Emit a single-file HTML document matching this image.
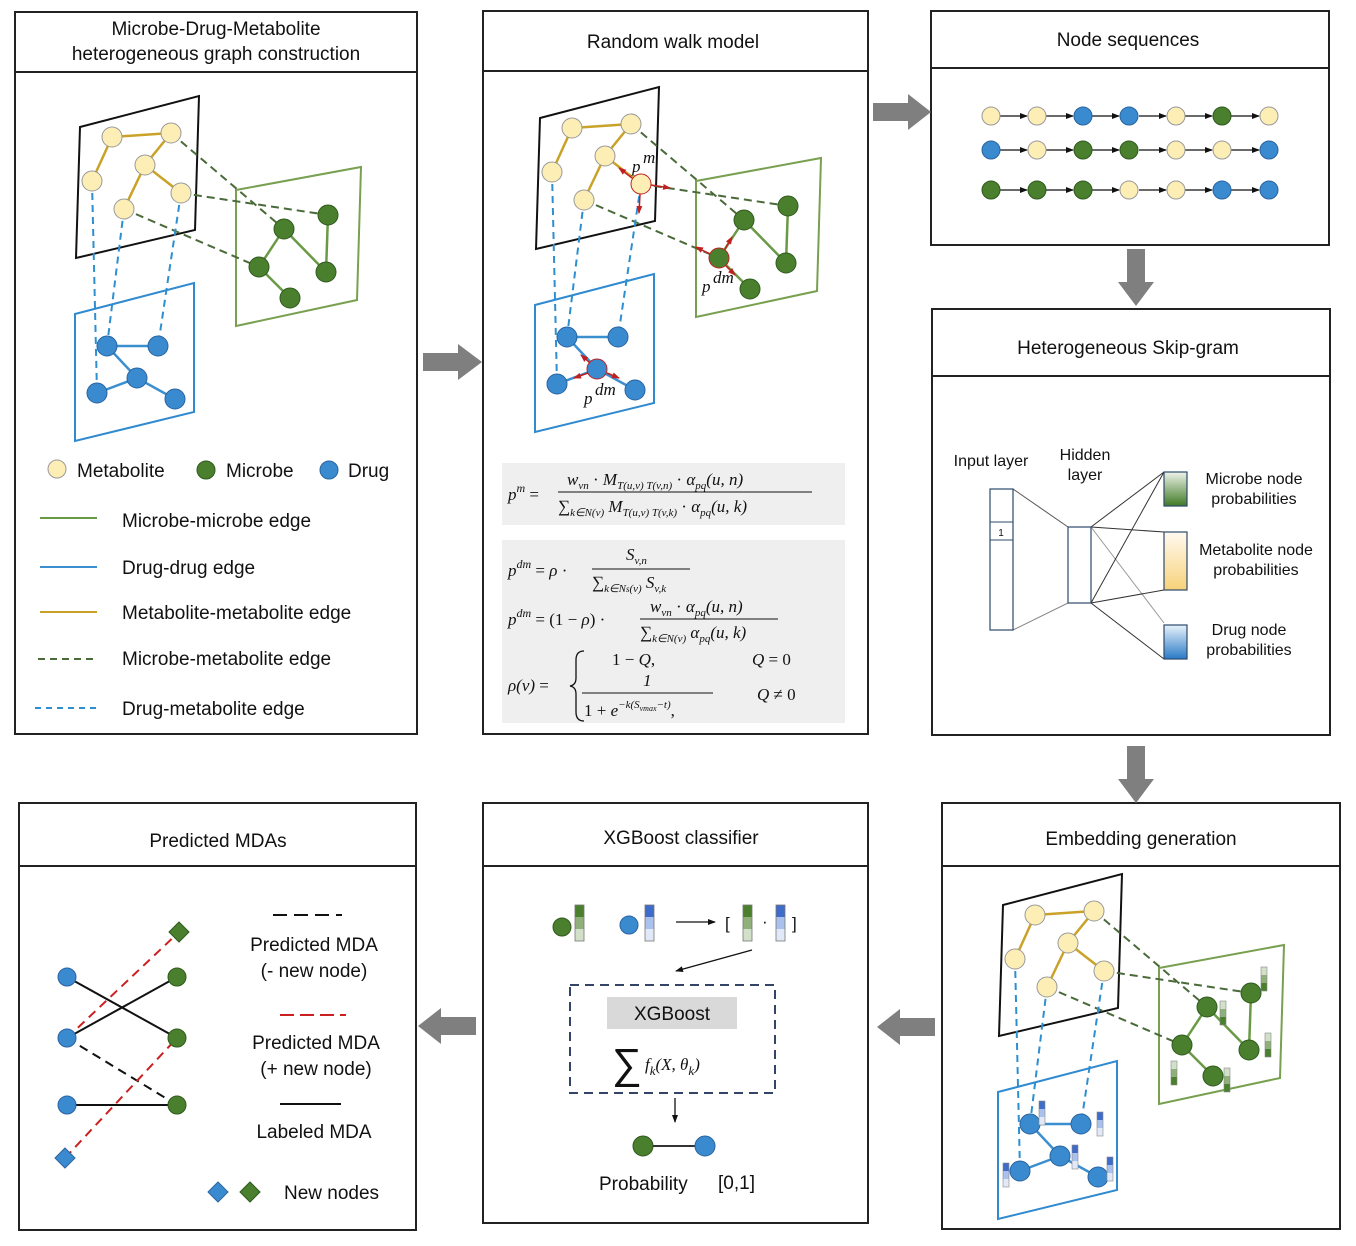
<!DOCTYPE html>
<html><head><meta charset="utf-8"><style>
html,body{margin:0;padding:0;background:#fff}
svg{display:block}
text{font-family:"Liberation Sans",sans-serif;fill:#111}
.t{font-size:19px;text-anchor:middle}
.m,.m text{font-family:"Liberation Serif",serif;font-style:italic;font-size:17px}
.s{font-size:16px}
</style></head><body>
<svg width="1356" height="1246" viewBox="0 0 1356 1246" xmlns="http://www.w3.org/2000/svg">
<defs>
<g id="graph">
  <polygon points="236,190 361,167 357,300 236,326" fill="none" stroke="#78a050" stroke-width="2"/>
  <polygon points="75,314 194,283 194,412 75,441" fill="none" stroke="#2f8ad0" stroke-width="2"/>
  <polygon points="80,127 199,96 195,230 76,258" fill="none" stroke="#111" stroke-width="2"/>
  <g stroke="#4a6a3a" stroke-width="2" stroke-dasharray="8,5">
    <line x1="171" y1="133" x2="284" y2="229"/>
    <line x1="181" y1="193" x2="328" y2="215"/>
    <line x1="124" y1="209" x2="259" y2="267"/>
  </g>
  <g stroke="#2e8fd0" stroke-width="2" stroke-dasharray="7,5">
    <line x1="92" y1="181" x2="97" y2="393"/>
    <line x1="124" y1="209" x2="107" y2="346"/>
    <line x1="181" y1="193" x2="158" y2="346"/>
  </g>
  <g stroke="#c9a227" stroke-width="2.5">
    <line x1="112" y1="137" x2="171" y2="133"/><line x1="112" y1="137" x2="92" y2="181"/>
    <line x1="171" y1="133" x2="145" y2="165"/><line x1="145" y1="165" x2="124" y2="209"/>
    <line x1="145" y1="165" x2="181" y2="193"/>
  </g>
  <g stroke="#6a9a45" stroke-width="2.5">
    <line x1="284" y1="229" x2="259" y2="267"/><line x1="284" y1="229" x2="326" y2="272"/>
    <line x1="328" y1="215" x2="326" y2="272"/><line x1="259" y1="267" x2="290" y2="298"/>
  </g>
  <g stroke="#3b8fcf" stroke-width="2.5">
    <line x1="107" y1="346" x2="158" y2="346"/><line x1="107" y1="346" x2="137" y2="378"/>
    <line x1="137" y1="378" x2="97" y2="393"/><line x1="137" y1="378" x2="175" y2="399"/>
  </g>
  <g fill="#fdeeb6" stroke="#999" stroke-width="1">
    <circle cx="112" cy="137" r="10"/><circle cx="171" cy="133" r="10"/><circle cx="145" cy="165" r="10"/>
    <circle cx="92" cy="181" r="10"/><circle cx="124" cy="209" r="10"/>
  </g>
  <g fill="#4a7f2e" stroke="#2f5a1e" stroke-width="1">
    <circle cx="284" cy="229" r="10"/><circle cx="328" cy="215" r="10"/><circle cx="326" cy="272" r="10"/><circle cx="290" cy="298" r="10"/>
  </g>
  <g fill="#3a8ad0" stroke="#2a64a0" stroke-width="1">
    <circle cx="107" cy="346" r="10"/><circle cx="158" cy="346" r="10"/><circle cx="97" cy="393" r="10"/><circle cx="175" cy="399" r="10"/>
  </g>
</g>
<linearGradient id="gg" x1="0" y1="0" x2="0" y2="1"><stop offset="0" stop-color="#eef3ea"/><stop offset="1" stop-color="#3f7a25"/></linearGradient>
<linearGradient id="yg" x1="0" y1="0" x2="0" y2="1"><stop offset="0" stop-color="#fffaf0"/><stop offset="1" stop-color="#f7d27a"/></linearGradient>
<linearGradient id="bg" x1="0" y1="0" x2="0" y2="1"><stop offset="0" stop-color="#e8f2fb"/><stop offset="1" stop-color="#2a7ac6"/></linearGradient>
<marker id="ah" markerWidth="8" markerHeight="8" refX="7" refY="4" orient="auto" markerUnits="userSpaceOnUse"><path d="M0,1 L8,4 L0,7 z" fill="#111"/></marker>
<marker id="ar" markerWidth="8" markerHeight="8" refX="7" refY="4" orient="auto" markerUnits="userSpaceOnUse"><path d="M0,1 L8,4 L0,7 z" fill="#c02020"/></marker>
<g id="gb"><rect x="0" y="0" width="9" height="12" fill="#4a7f2e"/><rect x="0" y="12" width="9" height="12" fill="#8fb07a"/><rect x="0" y="24" width="9" height="12" fill="#d3e0c9"/><rect x="0" y="0" width="9" height="36" fill="none" stroke="#777" stroke-width=".8"/></g>
<g id="bb"><rect x="0" y="0" width="9" height="12" fill="#3f6cc9"/><rect x="0" y="12" width="9" height="12" fill="#a9c1ec"/><rect x="0" y="24" width="9" height="12" fill="#e1e9f8"/><rect x="0" y="0" width="9" height="36" fill="none" stroke="#777" stroke-width=".8"/></g>
<g id="gbs"><rect x="0" y="0" width="6" height="8" fill="#d3e0c9"/><rect x="0" y="8" width="6" height="8" fill="#8fb07a"/><rect x="0" y="16" width="6" height="8" fill="#4a7f2e"/><rect x="0" y="0" width="6" height="24" fill="none" stroke="#888" stroke-width=".6"/></g>
<g id="bbs"><rect x="0" y="0" width="6" height="8" fill="#3f6cc9"/><rect x="0" y="8" width="6" height="8" fill="#a9c1ec"/><rect x="0" y="16" width="6" height="8" fill="#e1e9f8"/><rect x="0" y="0" width="6" height="24" fill="none" stroke="#888" stroke-width=".6"/></g>
</defs>

<g fill="none" stroke="#222" stroke-width="2">
<rect x="15" y="12" width="402" height="722"/><line x1="15" y1="72" x2="417" y2="72"/>
<rect x="483" y="11" width="385" height="723"/><line x1="483" y1="71" x2="868" y2="71"/>
<rect x="931" y="11" width="398" height="234"/><line x1="931" y1="68" x2="1329" y2="68"/>
<rect x="932" y="309" width="398" height="426"/><line x1="932" y1="376" x2="1330" y2="376"/>
<rect x="19" y="803" width="397" height="427"/><line x1="19" y1="866" x2="416" y2="866"/>
<rect x="483" y="803" width="385" height="420"/><line x1="483" y1="866" x2="868" y2="866"/>
<rect x="942" y="803" width="398" height="426"/><line x1="942" y1="866" x2="1340" y2="866"/>
</g>
<text class="t" x="216" y="35">Microbe-Drug-Metabolite</text>
<text class="t" x="216" y="60">heterogeneous graph construction</text>
<text class="t" x="673" y="48">Random walk model</text>
<text class="t" x="1128" y="46">Node sequences</text>
<text class="t" x="1128" y="354">Heterogeneous Skip-gram</text>
<text class="t" x="218" y="847">Predicted MDAs</text>
<text class="t" x="681" y="844">XGBoost classifier</text>
<text class="t" x="1141" y="845">Embedding generation</text>

<g fill="#7f7f7f">
<polygon points="423,353 458,353 458,344 482,362 458,380 458,371 423,371"/>
<polygon points="873,103 908,103 908,94 931,112 908,130 908,121 873,121"/>
<polygon points="1127,249 1145,249 1145,282 1154,282 1136,306 1118,282 1127,282"/>
<polygon points="1127,746 1145,746 1145,779 1154,779 1136,803 1118,779 1127,779"/>
<polygon points="935,1018 900,1018 900,1009 877,1027 900,1045 900,1036 935,1036"/>
<polygon points="476,1017 441,1017 441,1008 418,1026 441,1044 441,1035 476,1035"/>
</g>

<use href="#graph"/>
<circle cx="181" cy="193" r="10" fill="#fdeeb6" stroke="#999"/>
<circle cx="259" cy="267" r="10" fill="#4a7f2e" stroke="#2f5a1e"/>
<circle cx="137" cy="378" r="10" fill="#3a8ad0" stroke="#2a64a0"/>

<circle cx="57" cy="469" r="9" fill="#fdeeb6" stroke="#999"/><text x="77" y="477" font-size="19">Metabolite</text>
<circle cx="206" cy="470" r="9" fill="#4a7f2e" stroke="#2f5a1e"/><text x="226" y="477" font-size="19">Microbe</text>
<circle cx="329" cy="470" r="9" fill="#3a8ad0" stroke="#2a64a0"/><text x="348" y="477" font-size="19">Drug</text>
<line x1="40" y1="518" x2="97" y2="518" stroke="#6a9a45" stroke-width="2"/><text x="122" y="527" font-size="19">Microbe-microbe edge</text>
<line x1="40" y1="567" x2="97" y2="567" stroke="#3b8fcf" stroke-width="2"/><text x="122" y="574" font-size="19">Drug-drug edge</text>
<line x1="40" y1="612" x2="97" y2="612" stroke="#c9a227" stroke-width="2"/><text x="122" y="619" font-size="19">Metabolite-metabolite edge</text>
<line x1="38" y1="659" x2="97" y2="659" stroke="#4a6a3a" stroke-width="2" stroke-dasharray="7,5"/><text x="122" y="665" font-size="19">Microbe-metabolite edge</text>
<line x1="35" y1="708" x2="97" y2="708" stroke="#2e8fd0" stroke-width="2" stroke-dasharray="6,5"/><text x="122" y="715" font-size="19">Drug-metabolite edge</text>

<g transform="translate(460,-9)">
<use href="#graph"/>
<circle cx="181" cy="193" r="10" fill="#fdeeb6" stroke="#c02020"/>
<circle cx="259" cy="267" r="10" fill="#4a7f2e" stroke="#c02020"/>
<circle cx="137" cy="378" r="10" fill="#3a8ad0" stroke="#c02020"/>
<g stroke="#c02020" stroke-width="1.5" marker-end="url(#ar)">
<line x1="172" y1="187" x2="159" y2="177"/><line x1="191" y1="194" x2="210" y2="197"/><line x1="180" y1="203" x2="179" y2="222"/>
<line x1="265" y1="258" x2="272" y2="246"/><line x1="250" y1="263" x2="236" y2="256"/><line x1="266" y1="275" x2="275" y2="284"/>
<line x1="130" y1="372" x2="121" y2="364"/><line x1="128" y1="382" x2="114" y2="387"/><line x1="147" y1="382" x2="159" y2="387"/>
</g>
</g>
<text class="m" x="632" y="172" font-size="20">p</text><text class="m" x="643" y="163" font-size="14">m</text>
<text class="m" x="702" y="292" font-size="20">p</text><text class="m" x="713" y="283" font-size="14">dm</text>
<text class="m" x="584" y="404" font-size="20">p</text><text class="m" x="595" y="395" font-size="14">dm</text>

<rect x="502" y="463" width="343" height="62" fill="#efefef"/>
<rect x="502" y="540" width="343" height="183" fill="#efefef"/>
<g class="m">
<text x="508" y="500" font-size="19">p<tspan dy="-8" font-size="12">m</tspan><tspan dy="8" font-style="normal"> =</tspan></text>
<text x="567" y="485">w<tspan font-size="11" dy="4">vn</tspan><tspan dy="-4" font-style="normal"> · </tspan>M<tspan font-size="11" dy="4">T(u,v) T(v,n)</tspan><tspan dy="-4" font-style="normal"> · </tspan>α<tspan font-size="11" dy="4">pq</tspan><tspan dy="-4">(u, n)</tspan></text>
<line x1="558" y1="492" x2="812" y2="492" stroke="#111"/>
<text x="558" y="512"><tspan font-style="normal">∑</tspan><tspan font-size="11" dy="4">k∈N(v)</tspan><tspan dy="-4"> M</tspan><tspan font-size="11" dy="4">T(u,v) T(v,k)</tspan><tspan dy="-4" font-style="normal"> · </tspan>α<tspan font-size="11" dy="4">pq</tspan><tspan dy="-4">(u, k)</tspan></text>

<text x="508" y="576" font-size="18">p<tspan dy="-8" font-size="12">dm</tspan><tspan dy="8" font-style="normal"> = </tspan>ρ<tspan font-style="normal"> ·</tspan></text>
<text x="626" y="560">S<tspan font-size="11" dy="4">v,n</tspan></text>
<line x1="592" y1="569" x2="690" y2="569" stroke="#111"/>
<text x="592" y="588"><tspan font-style="normal">∑</tspan><tspan font-size="11" dy="4">k∈N<tspan font-size="9">s</tspan>(v)</tspan><tspan dy="-4"> S</tspan><tspan font-size="11" dy="4">v,k</tspan></text>

<text x="508" y="625" font-size="18">p<tspan dy="-8" font-size="12">dm</tspan><tspan dy="8" font-style="normal"> = (1 − </tspan>ρ<tspan font-style="normal">) ·</tspan></text>
<text x="650" y="612">w<tspan font-size="11" dy="4">vn</tspan><tspan dy="-4" font-style="normal"> · </tspan>α<tspan font-size="11" dy="4">pq</tspan><tspan dy="-4">(u, n)</tspan></text>
<line x1="640" y1="619" x2="778" y2="619" stroke="#111"/>
<text x="640" y="638"><tspan font-style="normal">∑</tspan><tspan font-size="11" dy="4">k∈N(v)</tspan><tspan dy="-4"> α</tspan><tspan font-size="11" dy="4">pq</tspan><tspan dy="-4">(u, k)</tspan></text>

<text x="508" y="691" font-size="18">ρ(v)<tspan font-style="normal"> =</tspan></text>
<text x="612" y="665"><tspan font-style="normal">1 − </tspan>Q<tspan font-style="normal">,</tspan></text>
<text x="752" y="665">Q<tspan font-style="normal"> = 0</tspan></text>
<text x="643" y="686" font-style="normal">1</text>
<line x1="582" y1="693" x2="713" y2="693" stroke="#111"/>
<text x="584" y="716"><tspan font-style="normal">1 + </tspan>e<tspan font-size="11" dy="-8">−k(S<tspan font-size="8" dy="3">vmax</tspan><tspan dy="-3">−t)</tspan></tspan><tspan dy="8" font-style="normal">,</tspan></text>
<text x="757" y="700">Q<tspan font-style="normal"> ≠ 0</tspan></text>
</g>
<path d="M584,651 Q576,651 576,660 L576,678 Q576,685 570,686 Q576,687 576,694 L576,712 Q576,721 584,721" fill="none" stroke="#111" stroke-width="1.3"/>

<g stroke="#111" stroke-width="1.2" marker-end="url(#ah)">
<line x1="1000" y1="116" x2="1027" y2="116"/><line x1="1046" y1="116" x2="1073" y2="116"/><line x1="1092" y1="116" x2="1119" y2="116"/><line x1="1139" y1="116" x2="1166" y2="116"/><line x1="1185" y1="116" x2="1212" y2="116"/><line x1="1231" y1="116" x2="1259" y2="116"/>
<line x1="1000" y1="150" x2="1027" y2="150"/><line x1="1046" y1="150" x2="1073" y2="150"/><line x1="1092" y1="150" x2="1119" y2="150"/><line x1="1139" y1="150" x2="1166" y2="150"/><line x1="1185" y1="150" x2="1212" y2="150"/><line x1="1231" y1="150" x2="1259" y2="150"/>
<line x1="1000" y1="190" x2="1027" y2="190"/><line x1="1046" y1="190" x2="1073" y2="190"/><line x1="1092" y1="190" x2="1119" y2="190"/><line x1="1139" y1="190" x2="1166" y2="190"/><line x1="1185" y1="190" x2="1212" y2="190"/><line x1="1231" y1="190" x2="1259" y2="190"/>
</g>
<g stroke-width="1">
<g fill="#fdeeb6" stroke="#999">
<circle cx="991" cy="116" r="9"/><circle cx="1037" cy="116" r="9"/><circle cx="1176" cy="116" r="9"/><circle cx="1269" cy="116" r="9"/>
<circle cx="1037" cy="150" r="9"/><circle cx="1176" cy="150" r="9"/><circle cx="1222" cy="150" r="9"/>
<circle cx="1129" cy="190" r="9"/><circle cx="1176" cy="190" r="9"/>
</g>
<g fill="#3a8ad0" stroke="#2a64a0">
<circle cx="1083" cy="116" r="9"/><circle cx="1129" cy="116" r="9"/>
<circle cx="991" cy="150" r="9"/><circle cx="1269" cy="150" r="9"/>
<circle cx="1222" cy="190" r="9"/><circle cx="1269" cy="190" r="9"/>
</g>
<g fill="#4a7f2e" stroke="#2f5a1e">
<circle cx="1222" cy="116" r="9"/>
<circle cx="1083" cy="150" r="9"/><circle cx="1129" cy="150" r="9"/>
<circle cx="991" cy="190" r="9"/><circle cx="1037" cy="190" r="9"/><circle cx="1083" cy="190" r="9"/>
</g>
</g>

<text x="991" y="466" class="s" text-anchor="middle">Input layer</text>
<text x="1085" y="460" class="s" text-anchor="middle">Hidden</text>
<text x="1085" y="480" class="s" text-anchor="middle">layer</text>
<g stroke="#333" stroke-width="1" fill="none">
<line x1="1013" y1="489" x2="1068" y2="527" stroke="#555"/><line x1="1013" y1="630" x2="1068" y2="603" stroke="#888"/>
<line x1="1091" y1="527" x2="1164" y2="472"/><line x1="1091" y1="527" x2="1164" y2="532"/><line x1="1091" y1="527" x2="1164" y2="623" stroke="#999"/>
<line x1="1091" y1="603" x2="1164" y2="472"/><line x1="1091" y1="603" x2="1164" y2="590"/><line x1="1091" y1="603" x2="1164" y2="659"/>
</g>
<rect x="990" y="489" width="23" height="141" fill="#fff" stroke="#2d4a6a" stroke-width="1.2"/>
<line x1="990" y1="522" x2="1013" y2="522" stroke="#2d4a6a"/><line x1="990" y1="540" x2="1013" y2="540" stroke="#2d4a6a"/>
<text x="1001" y="536" font-size="10" text-anchor="middle">1</text>
<rect x="1068" y="527" width="23" height="76" fill="#fff" stroke="#2d4a6a" stroke-width="1.2"/>
<rect x="1164" y="472" width="23" height="34" fill="url(#gg)" stroke="#2d4a6a" stroke-width="1.2"/>
<rect x="1164" y="532" width="23" height="58" fill="url(#yg)" stroke="#2d4a6a" stroke-width="1.2"/>
<rect x="1164" y="625" width="23" height="34" fill="url(#bg)" stroke="#2d4a6a" stroke-width="1.2"/>
<text x="1254" y="484" class="s" text-anchor="middle">Microbe node</text><text x="1254" y="504" class="s" text-anchor="middle">probabilities</text>
<text x="1256" y="555" class="s" text-anchor="middle">Metabolite node</text><text x="1256" y="575" class="s" text-anchor="middle">probabilities</text>
<text x="1249" y="635" class="s" text-anchor="middle">Drug node</text><text x="1249" y="655" class="s" text-anchor="middle">probabilities</text>

<g transform="translate(923,778)">
<use href="#graph"/>
<circle cx="181" cy="193" r="10" fill="#fdeeb6" stroke="#999"/>
<circle cx="259" cy="267" r="10" fill="#4a7f2e" stroke="#2f5a1e"/>
<circle cx="137" cy="378" r="10" fill="#3a8ad0" stroke="#2a64a0"/>
</g>
<use href="#gbs" x="1261" y="967"/><use href="#gbs" x="1220" y="1001"/><use href="#gbs" x="1265" y="1033"/>
<use href="#gbs" x="1171" y="1061"/><use href="#gbs" x="1224" y="1068"/>
<use href="#bbs" x="1039" y="1101"/><use href="#bbs" x="1097" y="1112"/><use href="#bbs" x="1072" y="1145"/>
<use href="#bbs" x="1003" y="1163"/><use href="#bbs" x="1107" y="1157"/>

<circle cx="562" cy="927" r="9" fill="#4a7f2e" stroke="#2f5a1e"/><use href="#gb" x="575" y="905"/>
<circle cx="629" cy="925" r="9" fill="#3a8ad0" stroke="#2a64a0"/><use href="#bb" x="645" y="905"/>
<line x1="676" y1="922" x2="715" y2="922" stroke="#111" stroke-width="1.3" marker-end="url(#ah)"/>
<text x="725" y="929" font-size="17">[</text><use href="#gb" x="743" y="905"/><text x="762" y="927" font-size="17">·</text><use href="#bb" x="776" y="905"/><text x="792" y="929" font-size="17">]</text>
<line x1="752" y1="950" x2="676" y2="971" stroke="#111" stroke-width="1.3" marker-end="url(#ah)"/>
<rect x="570" y="985" width="205" height="108" fill="none" stroke="#334466" stroke-width="2" stroke-dasharray="9,6"/>
<rect x="607" y="997" width="130" height="32" fill="#d9d9d9"/>
<text x="672" y="1020" class="t" font-size="20">XGBoost</text>
<text x="612" y="1078" font-size="42" font-family="Liberation Serif,serif">∑</text>
<text x="645" y="1070" class="m" font-size="21">f<tspan font-size="13" dy="5">k</tspan><tspan dy="-5">(X, θ</tspan><tspan font-size="13" dy="5">k</tspan><tspan dy="-5">)</tspan></text>
<line x1="675" y1="1098" x2="675" y2="1122" stroke="#111" stroke-width="1.3" marker-end="url(#ah)"/>
<line x1="643" y1="1146" x2="705" y2="1146" stroke="#333" stroke-width="2"/>
<circle cx="643" cy="1146" r="10" fill="#4a7f2e" stroke="#2f5a1e"/><circle cx="705" cy="1146" r="10" fill="#3a8ad0" stroke="#2a64a0"/>
<text x="599" y="1190" font-size="19">Probability</text>
<text x="718" y="1189" font-size="19" font-family="Liberation Serif,serif">[0,1]</text>

<g stroke-width="2">
<line x1="67" y1="977" x2="177" y2="1038" stroke="#111"/>
<line x1="67" y1="1038" x2="177" y2="977" stroke="#111"/>
<line x1="67" y1="1105" x2="177" y2="1105" stroke="#111"/>
<line x1="67" y1="1038" x2="177" y2="1105" stroke="#111" stroke-dasharray="9,6"/>
<line x1="67" y1="1038" x2="179" y2="932" stroke="#cc2020" stroke-dasharray="9,6"/>
<line x1="65" y1="1158" x2="177" y2="1038" stroke="#cc2020" stroke-dasharray="9,6"/>
</g>
<g fill="#3a8ad0" stroke="#2a64a0"><circle cx="67" cy="977" r="9"/><circle cx="67" cy="1038" r="9"/><circle cx="67" cy="1105" r="9"/></g>
<g fill="#4a7f2e" stroke="#2f5a1e"><circle cx="177" cy="977" r="9"/><circle cx="177" cy="1038" r="9"/><circle cx="177" cy="1105" r="9"/></g>
<polygon points="179,922 189,932 179,942 169,932" fill="#4a7f2e" stroke="#2f5a1e"/>
<polygon points="65,1148 75,1158 65,1168 55,1158" fill="#3a8ad0" stroke="#2a64a0"/>
<line x1="273" y1="915" x2="342" y2="915" stroke="#111" stroke-width="2" stroke-dasharray="14,7"/>
<text x="314" y="951" class="t">Predicted MDA</text><text x="314" y="977" class="t">(- new node)</text>
<line x1="280" y1="1015" x2="346" y2="1015" stroke="#cc2020" stroke-width="2" stroke-dasharray="14,6"/>
<text x="316" y="1049" class="t">Predicted MDA</text><text x="316" y="1075" class="t">(+ new node)</text>
<line x1="280" y1="1104" x2="341" y2="1104" stroke="#111" stroke-width="2"/>
<text x="314" y="1138" class="t">Labeled MDA</text>
<polygon points="218,1182 228,1192 218,1202 208,1192" fill="#3a8ad0" stroke="#2a64a0"/>
<polygon points="250,1182 260,1192 250,1202 240,1192" fill="#4a7f2e" stroke="#2f5a1e"/>
<text x="284" y="1199" font-size="19">New nodes</text>
</svg>
</body></html>
